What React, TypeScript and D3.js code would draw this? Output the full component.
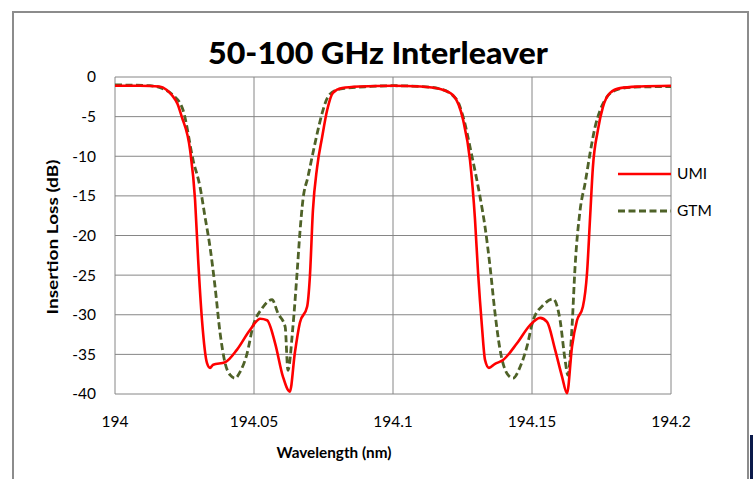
import * as d3 from "d3";

// UMI measured response, [wavelength nm, insertion loss dB]
const umiData: [number, number][] = [
  [194.0, -1.1], [194.009, -1.1], [194.016, -1.2], [194.0185, -1.6], [194.0205, -2.3],
  [194.0225, -3.4], [194.024, -5.0], [194.027, -9.2], [194.0288, -15.5], [194.0299, -23.0],
  [194.0313, -30.7], [194.0331, -36.1], [194.0342, -36.7], [194.0353, -36.3], [194.0396, -36.0],
  [194.0439, -34.4], [194.0486, -31.9], [194.0522, -30.5], [194.0547, -30.7], [194.0576, -33.6],
  [194.0604, -37.8], [194.0629, -39.7], [194.0647, -34.8], [194.0665, -31.0], [194.0691, -29.0],
  [194.0701, -25.2], [194.0712, -16.8], [194.0727, -11.4], [194.0745, -7.6], [194.0763, -4.2],
  [194.0784, -2.0], [194.0817, -1.4], [194.0881, -1.2], [194.1, -1.1], [194.11, -1.2],
  [194.1169, -1.5], [194.1216, -2.3], [194.1252, -5.4], [194.1277, -10.5], [194.1295, -18.0],
  [194.1306, -24.7], [194.132, -31.5], [194.1331, -35.7], [194.1345, -36.7], [194.1367, -36.2],
  [194.1396, -35.7], [194.1446, -33.6], [194.1493, -31.3], [194.1529, -30.4], [194.1554, -30.9],
  [194.1583, -34.4], [194.1608, -37.8], [194.1626, -39.9], [194.1644, -34.0], [194.1662, -30.7],
  [194.1683, -29.0], [194.1698, -24.7], [194.1709, -17.7], [194.1719, -11.4], [194.1737, -6.7],
  [194.1755, -3.8], [194.1781, -2.0], [194.1817, -1.4], [194.1888, -1.2], [194.2, -1.1],
];

// GTM model response
const gtmData: [number, number][] = [
  [194.0, -1.0], [194.0126, -1.1], [194.018, -1.6], [194.0209, -2.3], [194.0245, -4.2],
  [194.0281, -10.5], [194.0306, -13.9], [194.0324, -17.7], [194.0342, -21.5], [194.036, -26.5],
  [194.0378, -32.3], [194.0396, -36.1], [194.0414, -37.6], [194.0432, -38.0], [194.045, -37.2],
  [194.0475, -34.9], [194.0496, -31.5], [194.0529, -29.2], [194.0565, -28.1], [194.0586, -29.8],
  [194.0612, -31.5], [194.0622, -37.0], [194.064, -31.5], [194.0655, -24.7], [194.0665, -19.7],
  [194.0676, -15.5], [194.0694, -12.6], [194.0712, -9.6], [194.073, -6.7], [194.0748, -4.2],
  [194.0766, -2.5], [194.0799, -1.6], [194.0835, -1.4], [194.0917, -1.2], [194.1, -1.1],
  [194.11, -1.2], [194.1169, -1.5], [194.123, -2.9], [194.1252, -5.0], [194.1284, -10.0],
  [194.1313, -15.1], [194.1331, -18.9], [194.1349, -23.9], [194.1367, -29.8], [194.1385, -34.4],
  [194.141, -37.4], [194.1432, -38.0], [194.1457, -36.6], [194.1482, -34.0], [194.1504, -30.7],
  [194.154, -28.8], [194.1576, -28.0], [194.1601, -30.7], [194.1619, -35.7], [194.1629, -37.6],
  [194.1644, -31.5], [194.1655, -23.9], [194.1673, -16.8], [194.1691, -13.4], [194.1709, -9.6],
  [194.1727, -6.3], [194.1745, -4.2], [194.177, -2.5], [194.1806, -1.6], [194.1853, -1.3],
  [194.2, -1.2],
];

const xTicks = [194, 194.05, 194.1, 194.15, 194.2];
const yTicks = [0, -5, -10, -15, -20, -25, -30, -35, -40];
const seriesNames = ["UMI", "GTM"];

const W = 753;
const H = 479;
const plot = { left: 115, right: 671, top: 77, bottom: 394 };
const grid = "#868686";
const font = "Lato, 'Open Sans', sans-serif";

export default function App() {
  const x = d3.scaleLinear().domain([194, 194.2]).range([plot.left, plot.right]);
  const y = d3.scaleLinear().domain([0, -40]).range([plot.top, plot.bottom]);

  const line = d3
    .line<[number, number]>()
    .x((d) => x(d[0]))
    .y((d) => y(d[1]))
    .curve(d3.curveMonotoneX);

  return (
    <svg
      width={W}
      height={H}
      style={{ position: "absolute", left: 0, top: 0, background: "#fff" }}
      fontFamily={font}
    >
      {/* chart frame */}
      <rect x={13} y={12} width={735} height={520} fill="none" stroke="#8c8c8c" strokeWidth={2} />
      <rect x={750} y={435} width={3} height={44} fill="#0b1a4a" />

      <text
        x={378}
        y={64}
        textAnchor="middle"
        fontSize={30}
        fontWeight={900}
        textLength={340}
        lengthAdjust="spacingAndGlyphs"
      >
        50-100 GHz Interleaver
      </text>

      {/* grid */}
      {yTicks.map((t) => (
        <line key={"gy" + t} x1={plot.left} x2={plot.right} y1={y(t)} y2={y(t)} stroke={grid} strokeWidth={1} />
      ))}
      {xTicks.map((t) => (
        <line key={"gx" + t} x1={x(t)} x2={x(t)} y1={plot.top} y2={plot.bottom} stroke={grid} strokeWidth={1} />
      ))}

      {/* tick labels */}
      {yTicks.map((t) => (
        <text key={"ty" + t} x={96} y={y(t)} dy="0.35em" textAnchor="end" fontSize={15.5}>
          {t}
        </text>
      ))}
      {xTicks.map((t) => (
        <text key={"tx" + t} x={x(t)} y={422} dy="0.35em" textAnchor="middle" fontSize={15.5}>
          {t}
        </text>
      ))}

      {/* axis titles */}
      <text
        x={334}
        y={452}
        dy="0.35em"
        textAnchor="middle"
        fontSize={16}
        fontWeight="bold"
        textLength={115}
        lengthAdjust="spacingAndGlyphs"
      >
        Wavelength (nm)
      </text>
      <text
        transform={`translate(52,237) rotate(-90)`}
        dy="0.35em"
        textAnchor="middle"
        fontSize={16}
        fontWeight="bold"
        textLength={155}
        lengthAdjust="spacingAndGlyphs"
      >
        Insertion Loss (dB)
      </text>

      {/* series */}
      <path d={line(gtmData) ?? ""} fill="none" stroke="#4F6228" strokeWidth={2.8} strokeDasharray="7,3.5" />
      <path d={line(umiData) ?? ""} fill="none" stroke="#FF0000" strokeWidth={2.6} />

      {/* legend */}
      <line x1={618} x2={671} y1={174} y2={174} stroke="#FF0000" strokeWidth={2.6} />
      <text x={677} y={174} dy="0.35em" fontSize={15.5}>
        {seriesNames[0]}
      </text>
      <line x1={618} x2={671} y1={211} y2={211} stroke="#4F6228" strokeWidth={2.8} strokeDasharray="7,3.5" />
      <text x={677} y={211} dy="0.35em" fontSize={15.5}>
        {seriesNames[1]}
      </text>
    </svg>
  );
}
